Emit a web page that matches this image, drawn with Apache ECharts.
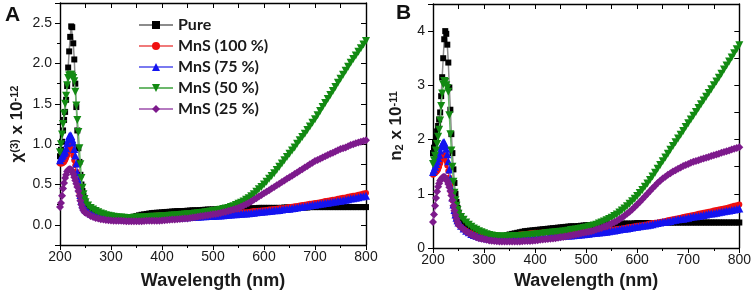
<!DOCTYPE html>
<html><head><meta charset="utf-8">
<script src="https://cdn.jsdelivr.net/npm/echarts@6/dist/echarts.min.js"></script>
<style>html,body{margin:0;padding:0;background:#fff}#c{width:754px;height:300px}</style>
</head><body><div id="c"></div>
<script>
// Wavelength (nm): 2 nm steps across the peak, 5 nm steps afterwards
const wavelength = [200,202,204,206,208,210,212,214,216,218,220,222,224,226,228,230,232,234,236,238,240,242,244,246,248,250,
255,260,265,270,275,280,285,290,295,300,
305,310,315,320,325,330,335,340,345,350,
355,360,365,370,375,380,385,390,395,400,
405,410,415,420,425,430,435,440,445,450,
455,460,465,470,475,480,485,490,495,500,
505,510,515,520,525,530,535,540,545,550,
555,560,565,570,575,580,585,590,595,600,
605,610,615,620,625,630,635,640,645,650,
655,660,665,670,675,680,685,690,695,700,
705,710,715,720,725,730,735,740,745,750,
755,760,765,770,775,780,785,790,795,800];

const seriesNames = ['Pure','MnS (100 %)','MnS (75 %)','MnS (50 %)','MnS (25 %)'];

// Panel A: chi(3) x 10^-12
const aPure = [0.85,0.93,1.03,1.17,1.30,1.40,1.55,1.72,1.95,2.15,2.33,2.46,2.45,2.25,2.05,1.75,1.46,1.17,0.95,0.78,0.62,0.50,0.42,0.36,0.31,0.27,
0.23,0.20,0.18,0.16,0.145,0.13,0.12,0.11,0.10,0.095,
0.09,0.085,0.082,0.08,0.08,0.08,0.085,0.09,0.10,0.11,
0.118,0.125,0.13,0.135,0.14,0.145,0.148,0.15,0.152,0.155,
0.158,0.16,0.162,0.165,0.167,0.17,0.17,0.17,0.172,0.175,
0.177,0.18,0.18,0.18,0.182,0.185,0.187,0.19,0.19,0.19,
0.192,0.195,0.195,0.195,0.197,0.2,0.2,0.2,0.2,0.2,
0.202,0.205,0.205,0.205,0.205,0.205,0.207,0.21,0.21,0.21,
0.21,0.21,0.21,0.21,0.21,0.21,0.21,0.215,0.215,0.215,
0.215,0.215,0.215,0.215,0.215,0.215,0.215,0.22,0.22,0.22,
0.22,0.22,0.22,0.22,0.22,0.22,0.22,0.22,0.22,0.22,
0.22,0.22,0.22,0.22,0.22,0.22,0.22,0.22,0.22,0.22];
const aMnS100 = [0.76,0.76,0.76,0.77,0.78,0.80,0.83,0.86,0.90,0.95,0.98,0.97,0.92,0.86,0.80,0.74,0.66,0.57,0.48,0.40,0.33,0.28,0.24,0.21,0.19,0.17,
0.15,0.13,0.12,0.11,0.10,0.095,0.09,0.085,0.082,0.08,
0.077,0.075,0.072,0.07,0.07,0.07,0.072,0.075,0.08,0.085,
0.09,0.095,0.10,0.105,0.108,0.11,0.112,0.115,0.118,0.12,
0.12,0.12,0.122,0.125,0.125,0.125,0.125,0.125,0.125,0.125,
0.125,0.125,0.125,0.125,0.125,0.125,0.125,0.125,0.125,0.125,
0.127,0.13,0.132,0.135,0.137,0.14,0.142,0.145,0.147,0.15,
0.152,0.155,0.157,0.16,0.165,0.17,0.172,0.175,0.177,0.18,
0.185,0.19,0.192,0.195,0.2,0.205,0.207,0.21,0.215,0.22,
0.225,0.23,0.235,0.24,0.245,0.25,0.255,0.26,0.265,0.27,
0.275,0.28,0.287,0.295,0.3,0.305,0.31,0.315,0.322,0.33,
0.335,0.34,0.347,0.355,0.36,0.365,0.372,0.38,0.387,0.395];
const aMnS75 = [0.80,0.83,0.85,0.87,0.89,0.91,0.95,1.01,1.06,1.10,1.11,1.10,1.06,1.02,0.94,0.86,0.76,0.65,0.55,0.45,0.37,0.30,0.26,0.23,0.21,0.19,
0.16,0.14,0.127,0.115,0.107,0.10,0.095,0.09,0.085,0.08,
0.077,0.075,0.072,0.07,0.07,0.07,0.07,0.07,0.07,0.07,
0.072,0.075,0.075,0.075,0.077,0.08,0.08,0.08,0.082,0.085,
0.085,0.085,0.087,0.09,0.09,0.09,0.092,0.095,0.095,0.095,
0.097,0.10,0.10,0.10,0.102,0.105,0.107,0.11,0.11,0.11,
0.112,0.115,0.117,0.12,0.122,0.125,0.127,0.13,0.132,0.135,
0.137,0.14,0.142,0.145,0.147,0.15,0.155,0.16,0.162,0.165,
0.167,0.17,0.175,0.18,0.182,0.185,0.19,0.195,0.197,0.20,
0.205,0.21,0.215,0.22,0.225,0.23,0.235,0.24,0.245,0.25,
0.255,0.26,0.265,0.27,0.275,0.28,0.285,0.29,0.295,0.30,
0.305,0.31,0.317,0.325,0.33,0.335,0.342,0.35,0.355,0.36];
const aMnS50 = [0.90,1.00,1.12,1.25,1.38,1.50,1.60,1.73,1.82,1.85,1.86,1.86,1.84,1.82,1.78,1.65,1.48,1.30,1.15,0.95,0.75,0.58,0.46,0.38,0.32,0.28,
0.24,0.21,0.19,0.17,0.155,0.14,0.13,0.12,0.112,0.105,
0.10,0.095,0.092,0.09,0.087,0.085,0.085,0.085,0.087,0.09,
0.09,0.09,0.092,0.095,0.097,0.10,0.10,0.10,0.102,0.105,
0.107,0.11,0.112,0.115,0.117,0.12,0.122,0.125,0.127,0.13,
0.132,0.135,0.14,0.145,0.147,0.15,0.155,0.16,0.165,0.17,
0.175,0.18,0.187,0.195,0.202,0.21,0.22,0.23,0.245,0.26,
0.275,0.29,0.31,0.33,0.355,0.38,0.41,0.44,0.47,0.50,
0.535,0.57,0.605,0.64,0.68,0.72,0.76,0.80,0.84,0.88,
0.92,0.96,1.005,1.05,1.09,1.13,1.175,1.22,1.265,1.31,
1.36,1.41,1.46,1.51,1.56,1.61,1.66,1.71,1.76,1.81,
1.86,1.91,1.96,2.01,2.055,2.10,2.145,2.19,2.235,2.28];
const aMnS25 = [0.22,0.27,0.36,0.45,0.52,0.58,0.62,0.66,0.68,0.69,0.69,0.68,0.66,0.63,0.59,0.55,0.51,0.47,0.42,0.36,0.30,0.25,0.21,0.18,0.16,0.15,
0.13,0.11,0.097,0.085,0.077,0.07,0.065,0.06,0.057,0.055,
0.052,0.05,0.05,0.05,0.047,0.045,0.045,0.045,0.045,0.045,
0.045,0.045,0.047,0.05,0.05,0.05,0.05,0.05,0.052,0.055,
0.057,0.06,0.062,0.065,0.067,0.07,0.072,0.075,0.077,0.08,
0.085,0.09,0.095,0.10,0.105,0.11,0.115,0.12,0.125,0.13,
0.135,0.14,0.147,0.155,0.162,0.17,0.18,0.19,0.20,0.21,
0.225,0.24,0.255,0.27,0.29,0.31,0.33,0.35,0.37,0.39,
0.41,0.43,0.45,0.47,0.49,0.51,0.53,0.55,0.57,0.59,
0.61,0.63,0.65,0.67,0.69,0.71,0.73,0.75,0.77,0.79,
0.805,0.82,0.835,0.85,0.865,0.88,0.895,0.91,0.925,0.94,
0.95,0.96,0.975,0.99,1.0,1.01,1.02,1.03,1.04,1.05];

// Panel B: n2 x 10^-11
const bPure = [1.75,1.85,1.95,2.05,2.15,2.25,2.37,2.50,2.80,3.15,3.50,3.85,4.00,3.95,3.75,3.42,2.96,2.55,2.10,1.75,1.45,1.20,1.00,0.85,0.74,0.65,
0.55,0.48,0.43,0.38,0.34,0.31,0.28,0.26,0.245,0.23,
0.22,0.21,0.205,0.20,0.20,0.20,0.21,0.22,0.235,0.25,
0.26,0.27,0.28,0.29,0.30,0.31,0.315,0.32,0.325,0.33,
0.335,0.34,0.345,0.35,0.355,0.36,0.365,0.37,0.375,0.38,
0.385,0.39,0.395,0.40,0.40,0.40,0.405,0.41,0.415,0.42,
0.42,0.42,0.425,0.43,0.43,0.43,0.435,0.44,0.44,0.44,
0.44,0.44,0.445,0.45,0.45,0.45,0.45,0.45,0.455,0.46,
0.46,0.46,0.46,0.46,0.46,0.46,0.46,0.46,0.465,0.47,
0.47,0.47,0.47,0.47,0.47,0.47,0.47,0.47,0.47,0.47,
0.47,0.47,0.47,0.47,0.47,0.47,0.47,0.47,0.47,0.47,
0.47,0.47,0.47,0.47,0.47,0.47,0.47,0.47,0.47,0.47];
const bMnS100 = [1.35,1.37,1.38,1.40,1.42,1.45,1.50,1.56,1.63,1.69,1.72,1.71,1.67,1.60,1.52,1.42,1.30,1.16,1.02,0.88,0.76,0.66,0.58,0.52,0.47,0.43,
0.39,0.35,0.32,0.29,0.27,0.25,0.235,0.22,0.21,0.20,
0.195,0.19,0.185,0.18,0.18,0.18,0.185,0.19,0.20,0.21,
0.22,0.23,0.24,0.25,0.255,0.26,0.265,0.27,0.275,0.28,
0.28,0.28,0.285,0.29,0.29,0.29,0.29,0.29,0.29,0.29,
0.29,0.29,0.29,0.29,0.295,0.30,0.30,0.30,0.30,0.30,
0.305,0.31,0.31,0.31,0.315,0.32,0.32,0.32,0.325,0.33,
0.34,0.35,0.355,0.36,0.37,0.38,0.385,0.39,0.40,0.41,
0.415,0.42,0.43,0.44,0.45,0.46,0.465,0.47,0.48,0.49,
0.50,0.51,0.52,0.53,0.54,0.55,0.56,0.57,0.58,0.59,
0.60,0.61,0.62,0.63,0.64,0.65,0.66,0.67,0.68,0.69,
0.70,0.71,0.72,0.73,0.74,0.75,0.765,0.78,0.79,0.80];
const bMnS75 = [1.40,1.45,1.50,1.55,1.60,1.66,1.72,1.80,1.87,1.92,1.95,1.95,1.90,1.83,1.73,1.60,1.45,1.28,1.10,0.93,0.80,0.70,0.62,0.56,0.51,0.47,
0.41,0.36,0.32,0.29,0.26,0.24,0.225,0.21,0.20,0.19,
0.18,0.17,0.165,0.16,0.16,0.16,0.16,0.16,0.16,0.16,
0.165,0.17,0.17,0.17,0.175,0.18,0.18,0.18,0.185,0.19,
0.19,0.19,0.195,0.20,0.205,0.21,0.21,0.21,0.215,0.22,
0.225,0.23,0.23,0.23,0.235,0.24,0.245,0.25,0.255,0.26,
0.265,0.27,0.275,0.28,0.285,0.29,0.295,0.30,0.31,0.32,
0.325,0.33,0.34,0.35,0.355,0.36,0.37,0.38,0.385,0.39,
0.40,0.41,0.415,0.42,0.43,0.44,0.45,0.46,0.47,0.48,
0.485,0.49,0.50,0.51,0.52,0.53,0.535,0.54,0.55,0.56,
0.57,0.58,0.585,0.59,0.60,0.61,0.62,0.63,0.635,0.64,
0.65,0.66,0.67,0.68,0.685,0.69,0.70,0.71,0.72,0.73];
const bMnS50 = [1.55,1.62,1.70,1.80,1.92,2.05,2.18,2.35,2.62,2.85,3.02,3.08,3.06,3.00,2.95,2.88,2.45,2.10,1.80,1.50,1.22,1.02,0.88,0.78,0.70,0.63,
0.57,0.52,0.47,0.43,0.39,0.36,0.335,0.31,0.29,0.27,
0.255,0.24,0.23,0.22,0.215,0.21,0.21,0.21,0.21,0.21,
0.215,0.22,0.22,0.22,0.225,0.23,0.235,0.24,0.245,0.25,
0.255,0.26,0.265,0.27,0.275,0.28,0.285,0.29,0.295,0.30,
0.305,0.31,0.32,0.33,0.335,0.34,0.35,0.36,0.37,0.38,
0.39,0.40,0.415,0.43,0.45,0.47,0.49,0.51,0.535,0.56,
0.59,0.62,0.655,0.69,0.73,0.77,0.815,0.86,0.91,0.96,
1.015,1.07,1.13,1.19,1.255,1.32,1.39,1.46,1.53,1.60,
1.67,1.74,1.81,1.88,1.95,2.02,2.09,2.16,2.23,2.30,
2.37,2.44,2.51,2.58,2.65,2.72,2.79,2.86,2.93,3.00,
3.07,3.14,3.215,3.29,3.365,3.44,3.515,3.59,3.665,3.74];
const bMnS25 = [0.48,0.62,0.78,0.92,1.04,1.13,1.19,1.24,1.27,1.29,1.31,1.31,1.30,1.27,1.23,1.18,1.12,1.05,0.97,0.88,0.78,0.69,0.61,0.54,0.48,0.43,
0.38,0.34,0.30,0.27,0.245,0.22,0.20,0.18,0.17,0.16,
0.15,0.14,0.135,0.13,0.125,0.12,0.12,0.12,0.12,0.12,
0.12,0.12,0.12,0.12,0.125,0.13,0.13,0.13,0.135,0.14,
0.145,0.15,0.155,0.16,0.165,0.17,0.175,0.18,0.19,0.20,
0.205,0.21,0.22,0.23,0.24,0.25,0.26,0.27,0.28,0.29,
0.30,0.31,0.325,0.34,0.355,0.37,0.39,0.41,0.43,0.45,
0.475,0.50,0.53,0.56,0.595,0.63,0.67,0.71,0.755,0.80,
0.85,0.90,0.95,1.00,1.05,1.10,1.15,1.20,1.24,1.28,
1.315,1.35,1.38,1.41,1.435,1.46,1.485,1.51,1.53,1.55,
1.57,1.59,1.605,1.62,1.635,1.65,1.665,1.68,1.695,1.71,
1.725,1.74,1.755,1.77,1.785,1.80,1.815,1.83,1.845,1.86];

const xTicks = [200,300,400,500,600,700,800];
const aYTicks = [0.0,0.5,1.0,1.5,2.0,2.5];
const bYTicks = [0,1,2,3,4];

const markerColors = ['#000000','#f01010','#1414f0','#128a12','#7d1a8c'];
const lineColors = ['#8c8c8c','#f07a7a','#7a7af0','#6cb86c','#b57ac0'];
const symbols = ['rect','circle','triangle','triangle','diamond'];
const symbolSizes = [6,6,8,8,8];
const symbolRotates = [0,0,0,180,0];

const FONT = 'Liberation Sans, Arial, sans-serif';
const chart = echarts.init(document.getElementById('c'));

function pairs(arr){ return wavelength.map((w,i)=>[w,arr[i]]); }
function mkSeries(arr, k, xi, yi){
  return {
    type:'line', name: seriesNames[k], xAxisIndex: xi, yAxisIndex: yi,
    data: pairs(arr), symbol: symbols[k], symbolSize: symbolSizes[k], symbolRotate: symbolRotates[k],
    showAllSymbol: true, z: 2+k,
    itemStyle: {color: markerColors[k]},
    lineStyle: {color: lineColors[k], width: 1.5},
    emphasis: {disabled: true}
  };
}

const axisLine = {show:true, onZero:false, lineStyle:{color:'#000', width:1.4}};
const labelStyle = {fontFamily: FONT, fontSize: 14, color: '#1a1a1a'};

function xBottom(gi, gap){
  return {gridIndex: gi, type:'value', position:'bottom', min:200, max:800, interval:100,
    axisLine, axisTick:{show:true, length:5, lineStyle:{color:'#000', width:1}},
    minorTick:{show:true, splitNumber:2, length:3, lineStyle:{color:'#000', width:1}},
    axisLabel:Object.assign({margin:5, formatter: v => xTicks.includes(v) ? String(v) : ''}, labelStyle),
    splitLine:{show:false},
    name:'Wavelength (nm)', nameLocation:'middle', nameGap: gap,
    nameTextStyle:{fontFamily: FONT, fontSize:18, fontWeight:'bold', color:'#1a1a1a'}};
}
function xTop(gi){
  return {gridIndex: gi, type:'value', position:'top', min:200, max:800, interval:50,
    axisLine, axisTick:{show:true, inside:true, length:5, lineStyle:{color:'#000', width:1}},
    axisLabel:{show:false}, splitLine:{show:false}};
}

const option = {
  animation: false,
  backgroundColor: '#fff',
  grid: [
    {left: 60, top: 3, width: 306, height: 242},
    {left: 433, top: 4, width: 307, height: 244}
  ],
  xAxis: [ xBottom(0, 27), xTop(0), xBottom(1, 24), xTop(1) ],
  yAxis: [
    {gridIndex:0, type:'value', position:'left', min:-0.25, max:2.75, splitNumber:6,
      axisLine, axisTick:{show:true, length:5, lineStyle:{color:'#000', width:1}},
      minorTick:{show:true, splitNumber:2, length:3, lineStyle:{color:'#000', width:1}},
      axisLabel:Object.assign({margin:8, formatter: v => {
        const t = aYTicks.find(a => Math.abs(a - v) < 1e-6); return t === undefined ? '' : t.toFixed(1);}}, labelStyle),
      splitLine:{show:false},
      name:'{b|χ}{s|(3)}{b| x 10}{s|-12}', nameLocation:'middle', nameRotate:90, nameGap:34,
      nameTextStyle:{rich:{
        b:{fontFamily:FONT, fontSize:17, fontWeight:'bold', color:'#1a1a1a'},
        s:{fontFamily:FONT, fontSize:11, fontWeight:'bold', color:'#1a1a1a', verticalAlign:'top'}}}},
    {gridIndex:0, type:'value', position:'right', min:-0.25, max:2.75, interval:0.25,
      axisLine, axisTick:{show:true, inside:true, length:5, lineStyle:{color:'#000', width:1}},
      axisLabel:{show:false}, splitLine:{show:false}},
    {gridIndex:1, type:'value', position:'left', min:0, max:4.5, interval:1,
      axisLine, axisTick:{show:true, length:5, lineStyle:{color:'#000', width:1}},
      axisLabel:Object.assign({margin:8, formatter: v => bYTicks.includes(v) ? String(v) : ''}, labelStyle),
      splitLine:{show:false},
      name:'{b|n}{sub|2}{b| x 10}{s|-11}', nameLocation:'middle', nameRotate:90, nameGap:28,
      nameTextStyle:{rich:{
        b:{fontFamily:FONT, fontSize:17, fontWeight:'bold', color:'#1a1a1a'},
        sub:{fontFamily:FONT, fontSize:11, fontWeight:'bold', color:'#1a1a1a', verticalAlign:'bottom'},
        s:{fontFamily:FONT, fontSize:11, fontWeight:'bold', color:'#1a1a1a', verticalAlign:'top'}}}},
    {gridIndex:1, type:'value', position:'right', min:0, max:4.5, interval:0.5,
      axisLine, axisTick:{show:true, inside:true, length:5, lineStyle:{color:'#000', width:1}},
      axisLabel:{show:false}, splitLine:{show:false}}
  ],
  legend: {
    orient:'vertical', left:133, top:12, itemWidth:34, itemHeight:10, itemGap:5,
    selectedMode:false,
    textStyle:{fontFamily:'Lato, Carlito, sans-serif', fontWeight:'bold', fontSize:16, color:'#1a1a1a', lineHeight:16},
    data: seriesNames
  },
  graphic: [
    {type:'text', left:5, top:5, style:{text:'A', font:'bold 21px Liberation Sans, Arial, sans-serif', fill:'#111'}},
    {type:'text', left:396, top:3, style:{text:'B', font:'bold 21px Liberation Sans, Arial, sans-serif', fill:'#111'}}
  ],
  series: [
    mkSeries(aPure,0,0,0), mkSeries(aMnS100,1,0,0), mkSeries(aMnS75,2,0,0), mkSeries(aMnS50,3,0,0), mkSeries(aMnS25,4,0,0),
    mkSeries(bPure,0,2,2), mkSeries(bMnS100,1,2,2), mkSeries(bMnS75,2,2,2), mkSeries(bMnS50,3,2,2), mkSeries(bMnS25,4,2,2)
  ]
};
chart.setOption(option);
</script></body></html>
